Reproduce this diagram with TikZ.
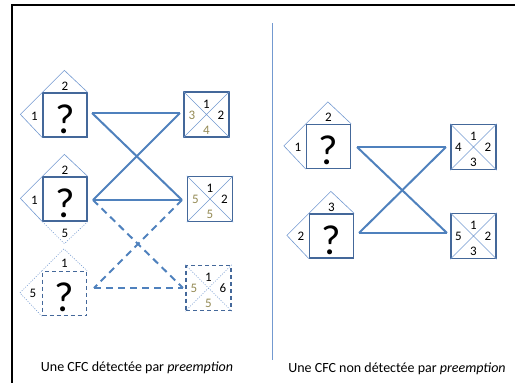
\documentclass[tikz,border=0pt]{standalone}
\usepackage{fontspec}
\setmainfont{Carlito}
\usetikzlibrary{calc}
\definecolor{linkblue}{HTML}{4F81BD}
\definecolor{sqblue}{HTML}{44689A}
\definecolor{thinblue}{HTML}{7399D0}
\definecolor{tanc}{HTML}{948A54}
\tikzset{
  qsq/.style={draw=sqblue, line width=1.3pt, minimum size=44pt, inner sep=0pt, text height=36pt, text depth=0pt, font=\fontsize{42}{42}\selectfont},
  xsq/.style={draw=sqblue, line width=1.3pt, minimum size=45pt, inner sep=0pt},
  dsq/.style={dash pattern=on 4pt off 3pt},
  tri/.style={draw=thinblue, line width=0.6pt},
  dtri/.style={tri, dash pattern=on 1pt off 1.5pt},
  lbl/.style={font=\fontsize{13}{13}\selectfont, inner sep=0pt},
  tanlbl/.style={lbl, text=tanc},
  link/.style={draw=linkblue, line width=2pt},
  dlink/.style={link, dash pattern=on 7pt off 5pt},
  frame/.style={draw=black, line width=2.5pt},
  sep/.style={draw=thinblue, line width=1pt},
  captext/.style={font=\fontsize{14}{14}\selectfont, inner sep=0pt}
}
\begin{document}
\begin{tikzpicture}[x=1pt,y=-1pt]
\useasboundingbox (0,0) rectangle (515,383);
% frame
\draw[frame] (12,383) -- (12,5) -- (515,5);
% separator
\draw[sep] (272,23) -- (272,360);

% ---------- left panel ----------
\node[qsq] (L1) at (65,115) {?};
\node[qsq] (L2) at (65,199) {?};
\node[qsq,dsq] (L3) at (64.5,293.5) {?};
\node[xsq] (R1) at (206.5,114.5) {};
\node[xsq] (R2) at (210,199) {};
\node[xsq,dsq] (R3) at (208.5,288) {};

% triangles of L1
\draw[tri] (L1.north west) -- ++(22,-22) -- (L1.north east);
\draw[tri] (L1.north west) -- ++(-22,22) -- (L1.south west);
\node[lbl] (L1t) at (65,86) {2};
\node[lbl] (L1l) at (34.5,116) {1};
% triangles of L2
\draw[tri] (L2.north west) -- ++(22,-22) -- (L2.north east);
\draw[tri] (L2.north west) -- ++(-22,22) -- (L2.south west);
\draw[dtri] (L2.south west) -- ++(22,22) -- (L2.south east);
\node[lbl] (L2t) at (65,170) {2};
\node[lbl] (L2l) at (34.5,200) {1};
\node[lbl] (L2b) at (65,233) {5};
% triangles of L3
\draw[dtri] (L3.north west) -- ++(22,-22) -- (L3.north east);
\draw[dtri] (L3.north west) -- ++(-22,22) -- (L3.south west);
\node[lbl] (L3t) at (64.5,263) {1};
\node[lbl] (L3l) at (33,293.5) {5};

% crosses of right squares
\draw[tri] (R1.north west) -- (R1.south east) (R1.north east) -- (R1.south west);
\draw[tri] (R2.north west) -- (R2.south east) (R2.north east) -- (R2.south west);
\draw[dtri] (R3.north west) -- (R3.south east) (R3.north east) -- (R3.south west);
\node[lbl] (R1a) at (206.5,104) {1};
\node[lbl] (R1b) at (221,115) {2};
\node[tanlbl] (R1c) at (192,115) {3};
\node[tanlbl] (R1d) at (206.5,130.5) {4};
\node[lbl] (R2a) at (210,188.5) {1};
\node[lbl] (R2b) at (224.5,199.5) {2};
\node[tanlbl] (R2c) at (195.5,199.5) {5};
\node[tanlbl] (R2d) at (210,214.5) {5};
\node[lbl] (R3a) at (208.5,277.5) {1};
\node[lbl] (R3b) at (223,288.5) {6};
\node[tanlbl] (R3c) at (194,288.5) {5};
\node[tanlbl] (R3d) at (208.5,303.5) {5};

% connectors
\coordinate (a1) at (92,113);
\coordinate (b1) at (180,113);
\coordinate (a2) at (93,200);
\coordinate (b2) at (182,200);
\coordinate (a3) at (94,288);
\coordinate (b3) at (183,288);
\draw[link] (a1) -- (b1);
\draw[link] (a1) -- (b2);
\draw[link] (b1) -- (a2);
\draw[link] (a2) -- (b2);
\draw[dlink] (a2) -- (b3);
\draw[dlink] (b2) -- (a3);
\draw[dlink] (a3) -- (b3);

\node[captext] (capL) at (137,368) {Une CFC détectée par \textit{preemption}};

% ---------- right panel ----------
\node[qsq] (A) at (328.5,146.5) {?};
\node[qsq] (B) at (331.5,236) {?};
\node[xsq] (C) at (473.5,147) {};
\node[xsq] (D) at (473.5,236) {};

\draw[tri] (A.north west) -- ++(22,-22) -- (A.north east);
\draw[tri] (A.north west) -- ++(-22,22) -- (A.south west);
\node[lbl] (At) at (328.5,117) {2};
\node[lbl] (Al) at (298,147) {1};
\draw[tri] (B.north west) -- ++(22,-22) -- (B.north east);
\draw[tri] (B.north west) -- ++(-22,22) -- (B.south west);
\node[lbl] (Bt) at (331.5,207) {3};
\node[lbl] (Bl) at (301,236.5) {2};

\draw[tri] (C.north west) -- (C.south east) (C.north east) -- (C.south west);
\draw[tri] (D.north west) -- (D.south east) (D.north east) -- (D.south west);
\node[lbl] (Ca) at (473.5,136) {1};
\node[lbl] (Cb) at (488,147.5) {2};
\node[lbl] (Cc) at (458.5,147.5) {4};
\node[lbl] (Cd) at (473.5,162) {3};
\node[lbl] (Da) at (473.5,225) {1};
\node[lbl] (Db) at (488,236.5) {2};
\node[lbl] (Dc) at (458.5,236.5) {5};
\node[lbl] (Dd) at (473.5,251) {3};

\coordinate (c1) at (357,147);
\coordinate (d1) at (446,147);
\coordinate (c2) at (359,233);
\coordinate (d2) at (447,233);
\draw[link] (c1) -- (d1);
\draw[link] (c1) -- (d2);
\draw[link] (d1) -- (c2);
\draw[link] (c2) -- (d2);

\node[captext] (capR) at (397,369) {Une CFC non détectée par \textit{preemption}};
\end{tikzpicture}
\end{document}
